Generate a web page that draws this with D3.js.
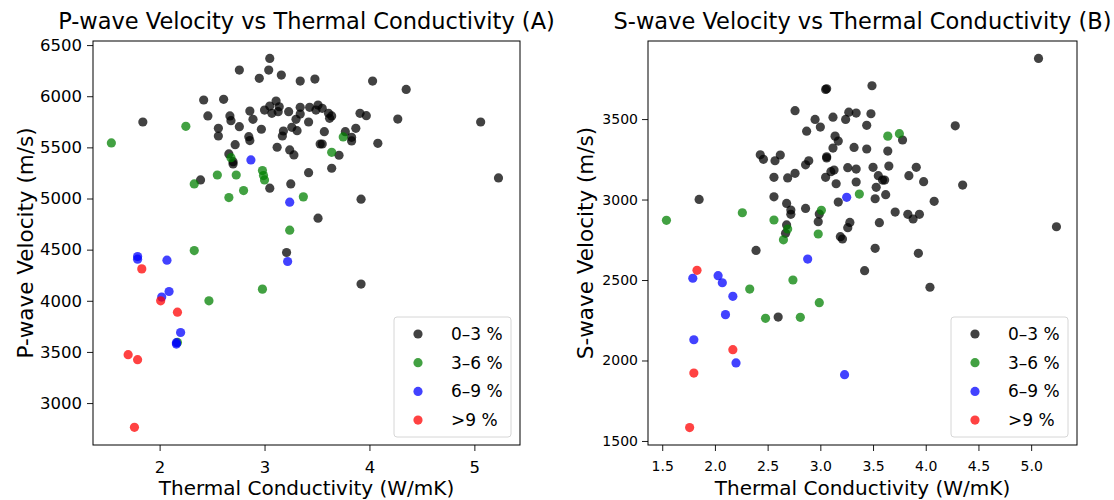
<!DOCTYPE html>
<html>
<head>
<meta charset="utf-8">
<script src="https://cdn.jsdelivr.net/npm/d3@7"></script>
<style>
  body { margin: 0; background: #fff; }
  text { font-family: "DejaVu Sans", sans-serif; fill: #000; }
</style>
</head>
<body>
<div id="canvas"></div>
<script>
// porosity classes
var classes = ["0–3 %", "3–6 %", "6–9 %", ">9 %"];
var colors = ["#000000", "#008000", "#0000ff", "#ff0000"];

// P-wave panel, [conductivity, velocity]
var pLow = [[3.05,6370],[2.76,6256],[3.04,6256],[2.95,6175],[3.16,6207],[3.34,6148],[3.48,6168],[4.03,6148],
  [4.35,6067],[2.42,5963],[2.61,5970],[1.84,5748],[2.46,5807],[2.67,5807],[2.68,5761],[2.86,5855],[2.89,5774],
  [2.76,5702],[2.56,5686],[2.56,5611],[2.97,5677],[2.85,5605],[2.86,5566],[2.72,5526],[3.00,5865],[3.05,5904],
  [3.11,5953],[3.07,5833],[3.13,5849],[3.14,5897],[3.23,5849],[3.34,5892],[3.34,5826],[3.30,5774],[3.43,5892],
  [3.51,5914],[3.49,5865],[3.55,5882],[3.61,5833],[3.62,5784],[3.64,5807],[3.91,5833],[3.97,5810],[4.27,5777],
  [5.06,5748],[3.42,5748],[3.26,5696],[3.31,5663],[3.18,5660],[3.17,5611],[3.57,5653],[3.77,5653],[3.87,5686],
  [3.83,5598],[3.83,5563],[3.53,5533],[3.55,5533],[4.08,5540],[3.12,5501],[3.24,5475],[3.28,5426],[3.71,5423],
  [2.66,5436],[2.70,5338],[2.70,5360],[3.64,5296],[3.42,5253],[2.39,5182],[3.25,5143],[3.05,5101],[3.92,4993],
  [3.51,4808],[5.23,5201],[3.21,4472],[3.92,4163]];
var pMid = [[1.54,5543],[2.25,5706],[3.75,5602],[3.64,5452],[2.68,5399],[2.55,5230],[2.73,5230],[2.33,5143],
  [2.98,5273],[2.99,5224],[3.00,5182],[2.80,5078],[2.66,5009],[3.37,5016],[3.24,4690],[2.33,4491],[2.47,4000],
  [2.98,4114],[2.17,3593]];
var pHigh = [[2.87,5377],[3.24,4964],[1.79,4433],[1.79,4407],[2.07,4397],[3.22,4384],[2.09,4091],[2.02,4036],
  [2.20,3690],[2.16,3577],[2.16,3590]];
var pVeryHigh = [[1.83,4312],[2.01,4000],[2.17,3889],[1.70,3473],[1.79,3424],[1.76,2763]];

// S-wave panel, [conductivity, velocity]
var sLow = [[5.07,3877],[5.24,2831],[3.49,3707],[3.05,3684],[3.06,3688],[2.76,3552],[2.95,3498],[3.12,3512],
  [3.24,3498],[3.27,3543],[3.34,3537],[3.48,3533],[3.44,3461],[2.87,3425],[3.00,3450],[4.28,3458],[3.78,3370],
  [3.14,3394],[3.17,3363],[3.12,3320],[3.32,3324],[3.44,3314],[3.64,3301],[2.43,3278],[2.46,3250],[2.57,3241],
  [2.62,3276],[2.89,3241],[2.86,3216],[3.06,3266],[3.06,3258],[2.56,3138],[2.69,3134],[2.76,3163],[3.05,3138],
  [3.10,3173],[3.13,3183],[3.26,3198],[3.34,3189],[3.50,3200],[3.65,3208],[3.55,3148],[3.59,3121],[3.61,3121],
  [3.53,3076],[3.84,3148],[3.91,3200],[3.98,3111],[4.35,3090],[3.15,3098],[3.34,3109],[2.56,3017],[2.68,2976],
  [2.72,2935],[2.72,2908],[2.86,2945],[2.99,2910],[2.98,2862],[3.17,2984],[3.52,3005],[3.62,3030],[4.08,2989],
  [3.71,2922],[3.83,2908],[3.88,2879],[3.94,2908],[3.56,2856],[3.28,2858],[3.26,2825],[3.19,2769],[3.21,2755],
  [1.85,3001],[2.68,2842],[2.67,2790],[2.39,2684],[3.52,2697],[3.93,2666],[3.42,2558],[4.04,2455],[2.60,2270]];
var sMid = [[1.54,2871],[2.26,2918],[2.56,2873],[3.64,3394],[3.75,3409],[3.37,3034],[3.01,2933],[2.69,2817],
  [2.65,2750],[2.98,2786],[2.33,2444],[2.74,2500],[2.99,2359],[2.48,2262],[2.81,2268]];
var sHigh = [[3.25,3014],[2.88,2630],[1.79,2511],[2.03,2527],[2.07,2483],[2.17,2399],[2.10,2285],[1.80,2129],
  [2.20,1985],[3.23,1912]];
var sVeryHigh = [[1.83,2560],[2.17,2067],[1.80,1922],[1.76,1583]];

var xTicksP = [2, 3, 4, 5];
var yTicksP = [3000, 3500, 4000, 4500, 5000, 5500, 6000, 6500];
var xTicksS = [1.5, 2.0, 2.5, 3.0, 3.5, 4.0, 4.5, 5.0];
var yTicksS = [1500, 2000, 2500, 3000, 3500];

var svg;

function drawPanel(opt){
  var x = d3.scaleLinear().domain([1.365, 5.435]).range([opt.left, opt.right]);
  var y = d3.scaleLinear().domain(opt.ydom).range([opt.bottom, opt.top]);

  var g = svg.append("g");

  // points, one class after another
  opt.series.forEach(function(pts, i){
    g.append("g").selectAll("circle")
      .data(pts)
      .enter().append("circle")
      .attr("cx", function(d){ return x(d[0]); })
      .attr("cy", function(d){ return y(d[1]); })
      .attr("r", 4.6)
      .attr("fill", colors[i])
      .attr("fill-opacity", 0.74);
  });

  var xAxis = g.append("g")
    .attr("transform", "translate(0," + opt.bottom + ")")
    .call(d3.axisBottom(x).tickValues(opt.xticks).tickSize(6).tickPadding(10)
      .tickFormat(opt.xfmt));
  var yAxis = g.append("g")
    .attr("transform", "translate(" + opt.left + ",0)")
    .call(d3.axisLeft(y).tickValues(opt.yticks).tickSize(6).tickPadding(opt.ypad)
      .tickFormat(d3.format("d")));
  [xAxis, yAxis].forEach(function(a){
    a.select(".domain").remove();
    a.selectAll("text").style("font-size", opt.tickSize + "px").attr("font-family", null);
    a.selectAll("line").attr("stroke", "#000").attr("stroke-width", 0.9);
  });

  // frame
  g.append("rect")
    .attr("x", opt.left).attr("y", opt.top)
    .attr("width", opt.right - opt.left).attr("height", opt.bottom - opt.top)
    .attr("fill", "none").attr("stroke", "#000").attr("stroke-width", 1);

  g.append("text")
    .attr("x", (opt.left + opt.right) / 2).attr("y", 29)
    .attr("text-anchor", "middle").style("font-size", "22.5px")
    .text(opt.title);
  g.append("text")
    .attr("x", (opt.left + opt.right) / 2).attr("y", 495)
    .attr("text-anchor", "middle").style("font-size", "20px")
    .text("Thermal Conductivity (W/mK)");
  g.append("text")
    .attr("transform", "translate(" + opt.ylabX + "," + (opt.top + opt.bottom) / 2 + ") rotate(-90)")
    .attr("text-anchor", "middle").style("font-size", "21.5px")
    .text(opt.ylabel);

  // legend
  var lx = opt.right - 126, ly = opt.bottom - 128;
  var leg = g.append("g").attr("transform", "translate(" + lx + "," + ly + ")");
  leg.append("rect")
    .attr("width", 117).attr("height", 120).attr("rx", 3)
    .attr("fill", "#fff").attr("fill-opacity", 0.8)
    .attr("stroke", "#d6d6d6").attr("stroke-width", 1);
  classes.forEach(function(c, i){
    var cy = 17 + i * 28.7;
    leg.append("circle").attr("cx", 24).attr("cy", cy).attr("r", 4.6)
      .attr("fill", colors[i]).attr("fill-opacity", 0.74);
    leg.append("text").attr("x", 57).attr("y", cy + 6)
      .style("font-size", "17px").text(c);
  });
}

function initializeLayout(){
  svg = d3.select("#canvas").append("svg")
    .attr("width", 1114).attr("height", 500);

  drawPanel({
    left: 93, right: 520, top: 41, bottom: 445,
    ydom: [2590, 6540],
    series: [pLow, pMid, pHigh, pVeryHigh],
    xticks: xTicksP, yticks: yTicksP, xfmt: d3.format("d"),
    tickSize: 16.5, ypad: 5,
    title: "P-wave Velocity vs Thermal Conductivity (A)",
    ylabel: "P-wave Velocity (m/s)", ylabX: 33
  });

  drawPanel({
    left: 648, right: 1077, top: 41, bottom: 445,
    ydom: [1475, 3985],
    series: [sLow, sMid, sHigh, sVeryHigh],
    xticks: xTicksS, yticks: yTicksS, xfmt: d3.format(".1f"),
    tickSize: 14, ypad: 4,
    title: "S-wave Velocity vs Thermal Conductivity (B)",
    ylabel: "S-wave Velocity (m/s)", ylabX: 593
  });
}

window.onload = initializeLayout;
</script>
</body>
</html>
